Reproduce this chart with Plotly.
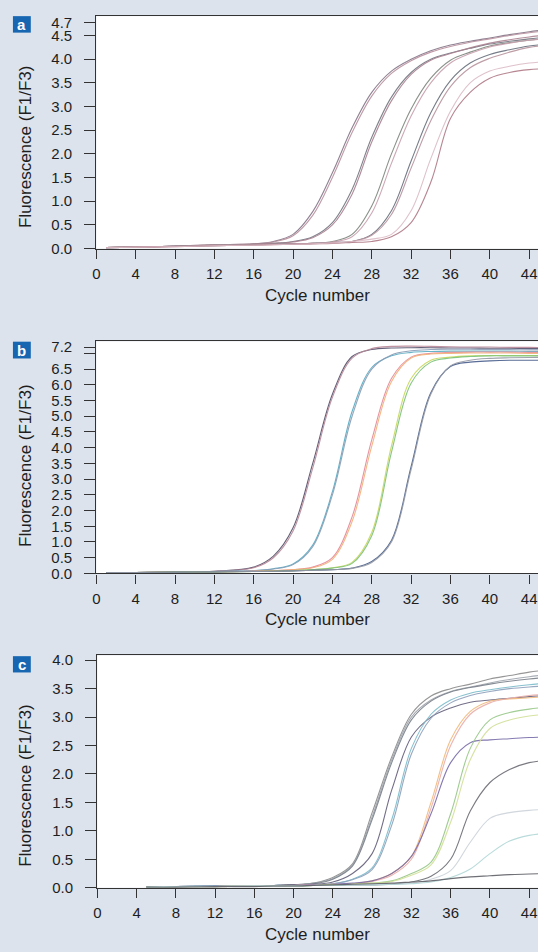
import plotly.graph_objects as go

W, H = 538, 952

# ---------------- data ----------------
cycles_ab = [1, 4, 8, 12, 16, 18, 20, 22, 24, 26, 28, 30, 32, 34, 36, 38, 40, 42, 44, 46]
cycles_c = [5, 8, 12, 16, 18, 20, 22, 24, 26, 28, 30, 32, 34, 36, 38, 40, 42, 44, 46]

panel_a = {
    "a1":  [0.02,0.03,0.05,0.08,0.10,0.15,0.30,0.78,1.60,2.55,3.30,3.75,4.00,4.18,4.30,4.38,4.45,4.52,4.58,4.63],
    "a1b": [0.02,0.03,0.05,0.08,0.10,0.14,0.27,0.70,1.50,2.45,3.22,3.70,3.97,4.15,4.27,4.36,4.43,4.50,4.56,4.60],
    "a2":  [0.02,0.03,0.05,0.07,0.09,0.11,0.15,0.25,0.55,1.25,2.35,3.20,3.72,4.00,4.13,4.23,4.32,4.38,4.43,4.47],
    "a2b": [0.02,0.03,0.05,0.07,0.09,0.11,0.14,0.23,0.50,1.15,2.25,3.12,3.68,3.98,4.12,4.24,4.34,4.41,4.47,4.52],
    "a3":  [0.02,0.03,0.05,0.07,0.08,0.09,0.10,0.11,0.15,0.30,0.90,2.00,2.95,3.60,3.98,4.15,4.28,4.35,4.40,4.45],
    "a3b": [0.02,0.03,0.05,0.07,0.08,0.09,0.10,0.11,0.14,0.25,0.75,1.80,2.80,3.50,3.92,4.12,4.26,4.34,4.40,4.44],
    "a4":  [0.02,0.03,0.05,0.06,0.08,0.09,0.10,0.11,0.13,0.15,0.30,0.80,1.85,2.87,3.55,3.92,4.10,4.20,4.28,4.32],
    "a4b": [0.02,0.03,0.05,0.06,0.08,0.09,0.10,0.11,0.13,0.15,0.28,0.72,1.70,2.70,3.42,3.82,4.02,4.15,4.25,4.30],
    "a5":  [0.02,0.03,0.04,0.06,0.07,0.08,0.09,0.10,0.11,0.13,0.15,0.25,0.55,1.40,2.75,3.30,3.60,3.72,3.78,3.80],
    "a5b": [0.02,0.03,0.04,0.06,0.07,0.08,0.09,0.10,0.12,0.15,0.20,0.30,0.80,1.90,2.90,3.50,3.75,3.85,3.92,3.95],
}
colors_a = ["#857688", "#b9929f", "#747780", "#ab8291", "#7f877f",
            "#c8a0ae", "#69707c", "#b8949f", "#b07b88", "#dcbcc6"]

panel_b = {
    "b1":  [0.03,0.03,0.05,0.07,0.20,0.55,1.45,3.50,5.70,6.90,7.12,7.17,7.18,7.18,7.17,7.17,7.16,7.16,7.15,7.15],
    "b1b": [0.03,0.03,0.05,0.07,0.18,0.50,1.35,3.35,5.60,6.85,7.15,7.22,7.23,7.22,7.21,7.20,7.20,7.19,7.19,7.18],
    "b2":  [0.03,0.03,0.04,0.06,0.09,0.15,0.30,0.90,2.60,5.15,6.55,6.92,7.03,7.06,7.07,7.07,7.07,7.07,7.06,7.06],
    "b2b": [0.03,0.03,0.04,0.06,0.09,0.14,0.28,0.85,2.50,5.00,6.50,6.95,7.08,7.12,7.13,7.13,7.12,7.12,7.11,7.11],
    "b3":  [0.03,0.03,0.04,0.05,0.07,0.09,0.12,0.20,0.50,1.80,4.25,6.20,6.88,7.00,7.03,7.04,7.04,7.04,7.03,7.03],
    "b3b": [0.03,0.03,0.04,0.05,0.07,0.09,0.12,0.18,0.45,1.65,4.05,6.10,6.85,6.98,7.00,7.01,7.01,7.01,7.00,7.00],
    "b4":  [0.03,0.03,0.04,0.05,0.06,0.07,0.09,0.12,0.18,0.35,1.30,4.05,6.20,6.78,6.88,6.92,6.93,6.93,6.93,6.93],
    "b4b": [0.03,0.03,0.04,0.05,0.06,0.07,0.09,0.12,0.17,0.32,1.20,3.85,6.05,6.72,6.85,6.90,6.92,6.92,6.92,6.92],
    "b5":  [0.03,0.03,0.04,0.05,0.06,0.07,0.08,0.10,0.12,0.17,0.38,1.05,3.40,5.75,6.58,6.72,6.76,6.78,6.78,6.78],
    "b5b": [0.03,0.03,0.04,0.05,0.06,0.07,0.08,0.10,0.12,0.16,0.35,1.00,3.30,5.70,6.60,6.78,6.84,6.86,6.87,6.87],
}
colors_b = ["#56526c", "#b88898", "#5aabc2", "#8a9db6", "#e6889a",
            "#f2b27a", "#c9d85e", "#7cc27a", "#475e8c", "#969aa4"]

panel_c = {
    "c1":  [0.01,0.02,0.03,0.04,0.04,0.05,0.08,0.18,0.42,1.32,2.30,3.05,3.37,3.50,3.58,3.67,3.73,3.79,3.83],
    "c1b": [0.01,0.02,0.03,0.04,0.04,0.05,0.08,0.16,0.40,1.25,2.25,3.00,3.30,3.45,3.53,3.60,3.66,3.71,3.75],
    "c1c": [0.01,0.02,0.03,0.04,0.04,0.05,0.07,0.15,0.38,1.20,2.20,2.95,3.28,3.44,3.52,3.58,3.63,3.67,3.70],
    "c2":  [0.01,0.02,0.03,0.04,0.04,0.05,0.06,0.10,0.25,0.60,1.72,2.65,3.00,3.16,3.26,3.30,3.33,3.36,3.38],
    "c3":  [0.01,0.02,0.03,0.03,0.04,0.04,0.05,0.07,0.15,0.35,1.20,2.45,3.05,3.30,3.42,3.48,3.53,3.57,3.60],
    "c3b": [0.01,0.02,0.03,0.03,0.04,0.04,0.05,0.07,0.14,0.32,1.10,2.35,2.98,3.25,3.38,3.45,3.50,3.53,3.55],
    "c4":  [0.01,0.02,0.02,0.03,0.03,0.04,0.05,0.06,0.07,0.12,0.25,0.55,1.50,2.60,3.10,3.28,3.32,3.34,3.36],
    "c4b": [0.01,0.02,0.02,0.03,0.03,0.04,0.05,0.06,0.07,0.11,0.22,0.50,1.40,2.50,3.05,3.25,3.33,3.38,3.40],
    "c5":  [0.01,0.02,0.02,0.03,0.03,0.04,0.05,0.06,0.08,0.12,0.25,0.55,1.30,2.20,2.55,2.60,2.62,2.64,2.65],
    "c6":  [0.01,0.02,0.02,0.03,0.03,0.03,0.04,0.05,0.06,0.08,0.12,0.25,0.45,1.30,2.45,2.95,3.08,3.14,3.18],
    "c6b": [0.01,0.02,0.02,0.03,0.03,0.03,0.04,0.05,0.06,0.08,0.11,0.22,0.40,1.15,2.25,2.80,2.95,3.02,3.05],
    "c7":  [0.01,0.02,0.02,0.03,0.03,0.03,0.04,0.04,0.05,0.05,0.06,0.10,0.20,0.50,1.35,1.85,2.08,2.20,2.24],
    "c8":  [0.01,0.02,0.02,0.03,0.03,0.03,0.04,0.04,0.05,0.05,0.06,0.08,0.15,0.30,0.80,1.22,1.32,1.36,1.38],
    "c9":  [0.01,0.02,0.02,0.03,0.03,0.03,0.04,0.04,0.05,0.05,0.06,0.07,0.10,0.18,0.33,0.60,0.82,0.92,0.96],
    "c10": [0.01,0.01,0.02,0.02,0.03,0.03,0.04,0.05,0.06,0.07,0.08,0.10,0.12,0.16,0.19,0.21,0.23,0.24,0.25],
}
colors_c = ["#8c8c8c", "#a0a6ae", "#7a808a", "#66607c", "#7cbccb", "#8fa0bc",
            "#f2ba7c", "#eaaeaa", "#7a6eaa", "#98c888", "#d2e09a", "#6c6d74",
            "#ccd3da", "#b2d8d7", "#606168"]

x_ticks = [0, 4, 8, 12, 16, 20, 24, 28, 32, 36, 40, 44]
x_range = [0, 44.9]

# the top label of panel a sits where the picture puts it (just under the frame)
y_ticks_a = [0, 0.5, 1.0, 1.5, 2.0, 2.5, 3.0, 3.5, 4.0, 4.5, 4.78]
y_text_a = ["0.0", "0.5", "1.0", "1.5", "2.0", "2.5", "3.0", "3.5", "4.0", "4.5", "4.7"]
y_range_a = [0, 4.91]

y_ticks_b = [0, 0.5, 1.0, 1.5, 2.0, 2.5, 3.0, 3.5, 4.0, 4.5, 5.0, 5.5, 6.0, 6.5, 7.0, 7.2]
y_text_b = ["0.0", "0.5", "1.0", "1.5", "2.0", "2.5", "3.0", "3.5", "4.0", "4.5",
            "5.0", "5.5", "6.0", "6.5", "", "7.2"]
y_range_b = [0, 7.38]

y_ticks_c = [0, 0.5, 1.0, 1.5, 2.0, 2.5, 3.0, 3.5, 4.0]
y_text_c = ["0.0", "0.5", "1.0", "1.5", "2.0", "2.5", "3.0", "3.5", "4.0"]
y_range_c = [0, 4.085]

x_title = "Cycle number"
y_title = "Fluorescence (F1/F3)"
panel_letters = ["a", "b", "c"]

# ---------------- layout geometry (pixels) ----------------
BG = "#dde3ec"
BLUE = "#1666b2"
FONT = "Liberation Sans, Arial, Helvetica, sans-serif"
INK = "#1e1e1e"

def px(x):
    return x / W

def py(y):
    return 1 - y / H

panels = [
    dict(data=panel_a, colors=colors_a, xs=cycles_ab, top=12.3, bottom=247.7, left=93,
         yt=y_ticks_a, ytt=y_text_a, yr=y_range_a, ytitle_y=144, xtitle_y=295, box=(12.3, 29)),
    dict(data=panel_b, colors=colors_b, xs=cycles_ab, top=341.7, bottom=576.7, left=93,
         yt=y_ticks_b, ytt=y_text_b, yr=y_range_b, ytitle_y=467, xtitle_y=623, box=(342, 359)),
    dict(data=panel_c, colors=colors_c, xs=cycles_c, top=659.7, bottom=895, left=94,
         yt=y_ticks_c, ytt=y_text_c, yr=y_range_c, ytitle_y=791, xtitle_y=942, box=(660.5, 677)),
]

fig = go.Figure()
annotations = []
shapes = []

for i, p in enumerate(panels):
    n = i + 1
    xa = "x" if n == 1 else f"x{n}"
    ya = "y" if n == 1 else f"y{n}"
    for (name, vals), col in zip(p["data"].items(), p["colors"]):
        fig.add_trace(go.Scatter(
            x=p["xs"], y=vals, mode="lines", name=name,
            line=dict(color=col, width=1.1, shape="spline", smoothing=1.0),
            opacity=0.9, xaxis=xa, yaxis=ya, showlegend=False, hoverinfo="skip"))

    xkey = "xaxis" if n == 1 else f"xaxis{n}"
    ykey = "yaxis" if n == 1 else f"yaxis{n}"
    fig.update_layout(**{
        xkey: dict(domain=[px(p["left"]), 1], anchor=ya, range=x_range,
                   tickmode="array", tickvals=x_ticks, ticks="outside", ticklen=9,
                   tickwidth=1.3, tickcolor="#333", showline=True, linecolor="#333",
                   linewidth=1.3, mirror=True, showgrid=False, zeroline=False,
                   tickfont=dict(family=FONT, size=15, color=INK), ticklabelstandoff=2),
        ykey: dict(domain=[py(p["bottom"]), py(p["top"])], anchor=xa, range=p["yr"],
                   tickmode="array", tickvals=p["yt"], ticktext=p["ytt"], ticks="outside",
                   ticklen=11, tickwidth=1.3, tickcolor="#333", showline=True,
                   linecolor="#333", linewidth=1.3, showgrid=False, zeroline=False,
                   tickfont=dict(family=FONT, size=15, color=INK), ticklabelstandoff=9),
    })

    annotations.append(dict(xref="paper", yref="paper", x=px(316), y=py(p["xtitle_y"]),
                            text=x_title, showarrow=False, xanchor="center", yanchor="middle",
                            font=dict(family=FONT, size=17, color=INK)))
    annotations.append(dict(xref="paper", yref="paper", x=px(21), y=py(p["ytitle_y"]),
                            text=y_title, showarrow=False, textangle=-90,
                            xanchor="center", yanchor="middle",
                            font=dict(family=FONT, size=17, color=INK)))
    b0, b1 = p["box"]
    shapes.append(dict(type="rect", xref="paper", yref="paper",
                       x0=px(9), x1=px(27), y0=py(b1), y1=py(b0),
                       fillcolor=BLUE, line=dict(width=0)))
    annotations.append(dict(xref="paper", yref="paper", x=px(18), y=py((b0 + b1) / 2 + 0.5),
                            text=f"<b>{panel_letters[i]}</b>", showarrow=False,
                            xanchor="center", yanchor="middle",
                            font=dict(family=FONT, size=15, color="white")))

fig.update_layout(width=W, height=H, margin=dict(l=0, r=0, t=0, b=0),
                  paper_bgcolor=BG, plot_bgcolor="white",
                  annotations=annotations, shapes=shapes, showlegend=False)

page_fix = ("document.body.style.margin='0';document.body.style.padding='0';"
            "document.body.style.overflow='hidden';"
            "document.body.style.background='" + BG + "';")
fig.write_html("out.html", post_script=page_fix, config={"displayModeBar": False})
